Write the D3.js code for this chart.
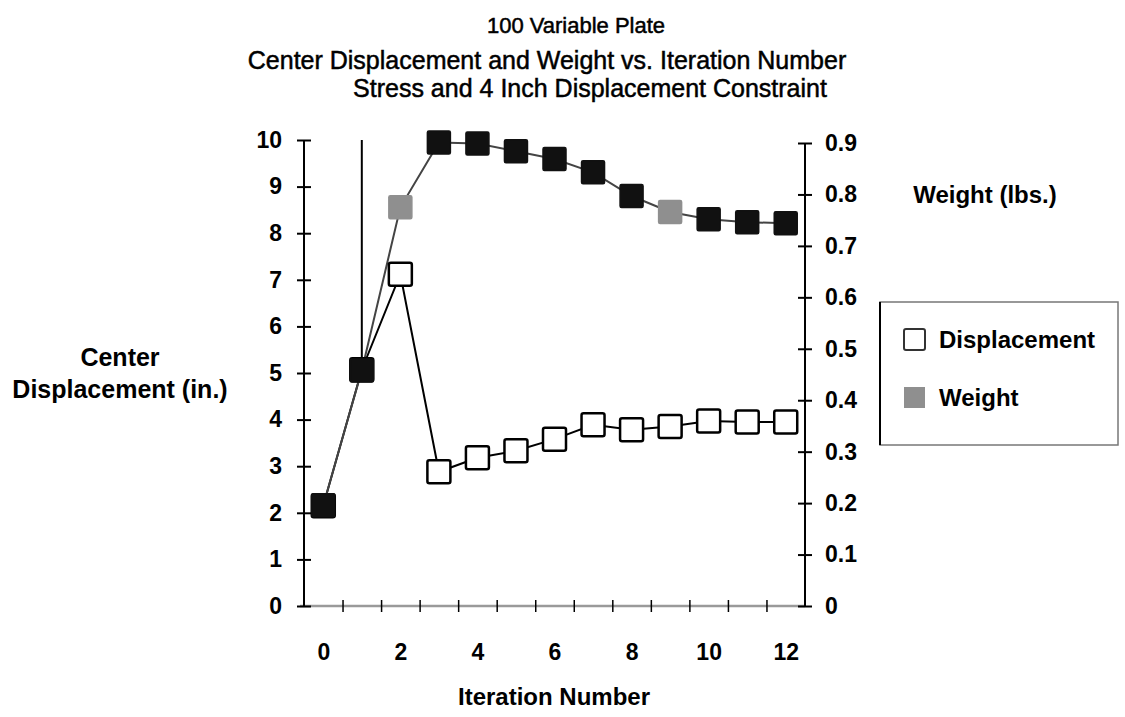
<!DOCTYPE html>
<html>
<head>
<meta charset="utf-8">
<script src="https://cdn.jsdelivr.net/npm/d3@7/dist/d3.min.js"></script>
<style>
  body { margin: 0; background: #fff; }
  svg { font-family: "Liberation Sans", Arial, Helvetica, sans-serif; }
  .tick text { font-weight: bold; font-size: 23px; fill: #000; }
</style>
</head>
<body>
<div id="chart"></div>
<script>
// iteration numbers (x categories)
var iterations = [0, 1, 2, 3, 4, 5, 6, 7, 8, 9, 10, 11, 12];
// center displacement, inches (left axis)
var displacement = [2.15, 5.07, 7.12, 2.88, 3.18, 3.33, 3.58, 3.89, 3.78, 3.85, 3.97, 3.95, 3.95];
// weight, lbs (right axis)
var weight = [0.196, 0.458, 0.775, 0.901, 0.899, 0.884, 0.869, 0.843, 0.797, 0.766, 0.752, 0.746, 0.744];
// vertical line drawn at iteration 1 from top of axis down to the marker
var dropLine = { iter: 1, from: 10, to: 5.07 };

var xTickLabels = [0, 2, 4, 6, 8, 10, 12];
var leftTicks = [0, 1, 2, 3, 4, 5, 6, 7, 8, 9, 10];
var rightTicks = [0, 0.1, 0.2, 0.3, 0.4, 0.5, 0.6, 0.7, 0.8, 0.9];
var grayWeightIters = [2, 9];

var titles = [
  "100 Variable Plate",
  "Center Displacement and Weight vs. Iteration Number",
  "Stress and 4 Inch Displacement Constraint"
];

var width = 1125, height = 717;
var svg = d3.select("#chart").append("svg")
  .attr("width", width)
  .attr("height", height);

// scales
var x = d3.scaleLinear().domain([-0.5, 12.5]).range([304, 805]);
var yL = d3.scaleLinear().domain([0, 10]).range([606, 140]);
var yR = d3.scaleLinear().domain([0, 0.9]).range([606, 143]);

// titles
var titlePos = [[576, 25, 22], [547, 60, 25], [590, 88, 25]];
svg.selectAll(".title").data(titles).enter().append("text")
  .attr("class", "title")
  .attr("x", function(d, i) { return titlePos[i][0]; })
  .attr("y", function(d, i) { return titlePos[i][1]; })
  .attr("dy", "0.35em")
  .attr("text-anchor", "middle")
  .attr("font-size", function(d, i) { return titlePos[i][2]; })
  .attr("fill", "#000")
  .attr("stroke", "#000").attr("stroke-width", 0.5)
  .text(function(d) { return d; });

// x axis: gray base line, tick marks at category boundaries
svg.append("line")
  .attr("x1", x(-0.5) - 4).attr("x2", x(12.5))
  .attr("y1", yL(0)).attr("y2", yL(0))
  .attr("stroke", "#9a9a9a").attr("stroke-width", 2.5);

var xTickAxis = d3.axisBottom(x)
  .tickValues(d3.range(0.5, 12, 1))
  .tickSize(6)
  .tickFormat("");
svg.append("g")
  .attr("transform", "translate(0," + yL(0) + ")")
  .call(xTickAxis)
  .call(function(g) {
    g.select(".domain").remove();
    g.selectAll(".tick line").attr("y1", -6).attr("y2", 6)
      .attr("stroke", "#000").attr("stroke-width", 1.5);
  });

var xLabelAxis = d3.axisBottom(x)
  .tickValues(xTickLabels)
  .tickSize(0)
  .tickFormat(d3.format("d"));
svg.append("g")
  .attr("transform", "translate(0," + yL(0) + ")")
  .call(xLabelAxis)
  .call(function(g) {
    g.select(".domain").remove();
    g.selectAll(".tick text").attr("y", 46).attr("dy", "0.35em");
  });

// left axis
var leftAxis = d3.axisLeft(yL).tickValues(leftTicks).tickSize(7).tickFormat(d3.format("d"));
svg.append("g")
  .attr("transform", "translate(" + x(-0.5) + ",0)")
  .call(leftAxis)
  .call(function(g) {
    g.select(".domain").attr("stroke", "#000").attr("stroke-width", 2).attr("d", "M0," + yL(10) + "V" + yL(0));
    g.selectAll(".tick line").attr("x1", -7).attr("x2", 7).attr("stroke", "#000").attr("stroke-width", 2);
    g.selectAll(".tick text").attr("x", -22);
  });

// right axis
var rightAxis = d3.axisRight(yR).tickValues(rightTicks).tickSize(7)
  .tickFormat(function(d) { return d === 0 ? "0" : d3.format(".1f")(d); });
svg.append("g")
  .attr("transform", "translate(" + x(12.5) + ",0)")
  .call(rightAxis)
  .call(function(g) {
    g.select(".domain").attr("stroke", "#000").attr("stroke-width", 2).attr("d", "M0," + yR(0.9) + "V" + yR(0));
    g.selectAll(".tick line").attr("x1", -7).attr("x2", 7).attr("stroke", "#000").attr("stroke-width", 2);
    g.selectAll(".tick text").attr("x", 20);
  });

// axis titles
svg.append("text").attr("x", 120).attr("y", 357).attr("dy", "0.35em")
  .attr("text-anchor", "middle").attr("font-size", 25).attr("font-weight", "bold")
  .text("Center");
svg.append("text").attr("x", 120).attr("y", 389).attr("dy", "0.35em")
  .attr("text-anchor", "middle").attr("font-size", 25).attr("font-weight", "bold")
  .text("Displacement (in.)");
svg.append("text").attr("x", 985).attr("y", 195).attr("dy", "0.35em")
  .attr("text-anchor", "middle").attr("font-size", 24).attr("font-weight", "bold")
  .text("Weight (lbs.)");
svg.append("text").attr("x", 554).attr("y", 697).attr("dy", "0.35em")
  .attr("text-anchor", "middle").attr("font-size", 24).attr("font-weight", "bold")
  .text("Iteration Number");

// vertical line at iteration 1
svg.append("line")
  .attr("x1", x(dropLine.iter)).attr("x2", x(dropLine.iter))
  .attr("y1", yL(dropLine.from)).attr("y2", yL(dropLine.to))
  .attr("stroke", "#000").attr("stroke-width", 2);

// lines
var dispLine = d3.line()
  .x(function(d, i) { return x(iterations[i]); })
  .y(function(d) { return yL(d); });
var weightLine = d3.line()
  .x(function(d, i) { return x(iterations[i]); })
  .y(function(d) { return yR(d); });

svg.append("path").datum(displacement)
  .attr("d", dispLine)
  .attr("fill", "none").attr("stroke", "#000").attr("stroke-width", 2);
svg.append("path").datum(weight)
  .attr("d", weightLine)
  .attr("fill", "none").attr("stroke", "#444").attr("stroke-width", 2);

var ms = 23;
// displacement markers
svg.selectAll(".dmark").data(displacement).enter().append("rect")
  .attr("class", "dmark")
  .attr("x", function(d, i) { return x(iterations[i]) - ms / 2; })
  .attr("y", function(d) { return yL(d) - ms / 2; })
  .attr("width", ms).attr("height", ms)
  .attr("rx", 2)
  .attr("fill", "#fff").attr("stroke", "#000").attr("stroke-width", 2.5);

// weight markers
svg.selectAll(".wmark").data(weight).enter().append("rect")
  .attr("class", "wmark")
  .attr("x", function(d, i) { return x(iterations[i]) - ms / 2; })
  .attr("y", function(d) { return yR(d) - ms / 2; })
  .attr("width", ms).attr("height", ms)
  .attr("rx", 1.5)
  .attr("fill", function(d, i) { return grayWeightIters.indexOf(iterations[i]) >= 0 ? "#8f8f8f" : "#111"; })
  .attr("stroke", function(d, i) { return grayWeightIters.indexOf(iterations[i]) >= 0 ? "#8f8f8f" : "#111"; })
  .attr("stroke-width", 1.5);

// legend
var legend = svg.append("g");
legend.append("rect")
  .attr("x", 880).attr("y", 302).attr("width", 238).attr("height", 143)
  .attr("fill", "#fff").attr("stroke", "#777").attr("stroke-width", 1.5);
legend.append("line")
  .attr("x1", 880).attr("x2", 880).attr("y1", 302).attr("y2", 445)
  .attr("stroke", "#000").attr("stroke-width", 2);
var legendItems = ["Displacement", "Weight"];
var legendY = [340, 398];
legend.selectAll(".lsw").data(legendItems).enter().append("rect")
  .attr("x", 904)
  .attr("y", function(d, i) { return legendY[i] - 11; })
  .attr("width", 21).attr("height", 21)
  .attr("rx", function(d, i) { return i === 0 ? 2 : 0; })
  .attr("fill", function(d, i) { return i === 0 ? "#fff" : "#8f8f8f"; })
  .attr("stroke", function(d, i) { return i === 0 ? "#333" : "none"; })
  .attr("stroke-width", 2);
legend.selectAll(".ltx").data(legendItems).enter().append("text")
  .attr("x", 939)
  .attr("y", function(d, i) { return legendY[i]; })
  .attr("dy", "0.35em")
  .attr("font-size", 24).attr("font-weight", "bold")
  .text(function(d) { return d; });
</script>
</body>
</html>
